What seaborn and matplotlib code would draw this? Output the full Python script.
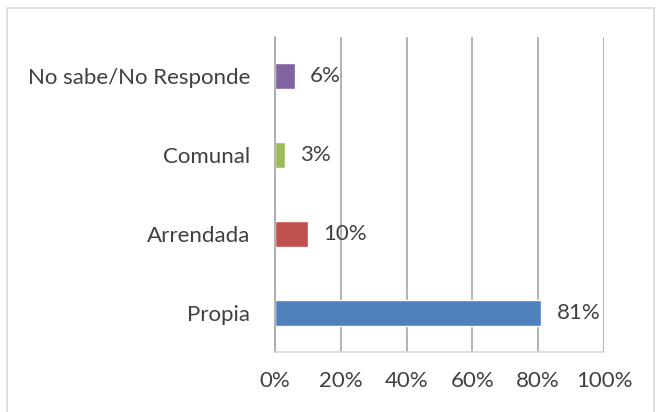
import matplotlib
matplotlib.use('Agg')
import matplotlib.pyplot as plt
import seaborn as sns
import pandas as pd
from matplotlib.patches import Rectangle

# Data (top to bottom)
categories = ['No sabe/No Responde', 'Comunal', 'Arrendada', 'Propia']
values = [6, 3, 10, 81]
colors = ['#8064A2', '#9BBB59', '#C0504D', '#4F81BD']
tick_values = [0, 20, 40, 60, 80, 100]
tick_labels = ['0%', '20%', '40%', '60%', '80%', '100%']

data = pd.DataFrame({'categoria': categories, 'valor': values})

sns.set_style('white')
plt.rcParams['font.family'] = ['Lato', 'DejaVu Sans']
text_color = '#404040'
fs = 16

fig = plt.figure(figsize=(6.63, 4.12), dpi=100)
ax = fig.add_axes([275 / 663, 1 - 352 / 412, 329 / 663, 315 / 412])

sns.barplot(x='valor', y='categoria', data=data, hue='categoria',
            palette=colors, width=0.33, legend=False, ax=ax, saturation=1)

ax.set_xlim(0, 100)
ax.set_xticks(tick_values)
ax.set_xticklabels(tick_labels, fontsize=fs, color=text_color)
ax.tick_params(axis='x', length=0, pad=14)
ax.tick_params(axis='y', length=0, pad=18, labelsize=fs, labelcolor=text_color)
ax.set_xlabel('')
ax.set_ylabel('')

# vertical gridlines
ax.grid(axis='x', color='#A6A6A6', linewidth=1.2)
ax.set_axisbelow(True)
for side in ['top', 'right']:
    ax.spines[side].set_visible(False)
ax.spines['left'].set_color('#A6A6A6')
ax.spines['left'].set_linewidth(1.2)
ax.spines['bottom'].set_color('#D9D9D9')
ax.spines['bottom'].set_linewidth(1.2)

# data labels
for container in ax.containers:
    ax.bar_label(container, labels=[f'{v:.0f}%' for v in container.datavalues],
                 padding=11, fontsize=fs, color=text_color)

# outer chart border
fig.patches.append(Rectangle((7 / 663, -0.01), 647 / 663, 1 - 8 / 412 + 0.01,
                             transform=fig.transFigure, fill=False,
                             edgecolor='#D9D9D9', linewidth=1.2))

fig.savefig('out.png', dpi=100)
